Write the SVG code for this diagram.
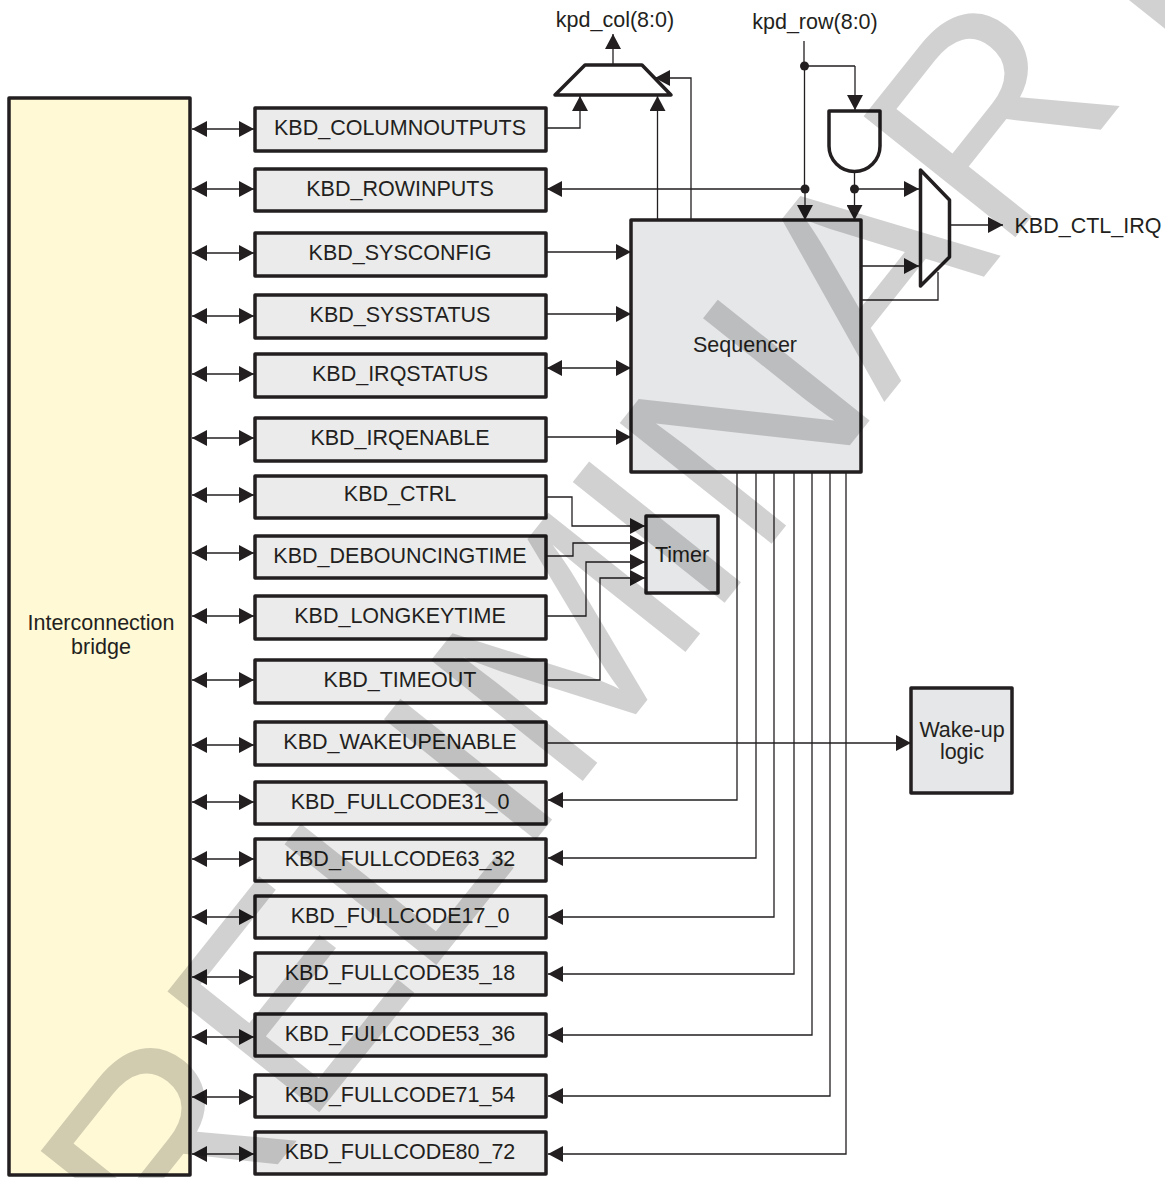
<svg xmlns="http://www.w3.org/2000/svg" width="1165" height="1178" viewBox="0 0 1165 1178">
<style>
text{font-family:"Liberation Sans",Arial,sans-serif;font-size:21.5px;fill:#231f20;text-anchor:middle}
.n{fill:#ebebeb;stroke:#231f20;stroke-width:3.5;stroke-linejoin:round}
.s{fill:#e6e7e8;stroke:#231f20;stroke-width:3.5;stroke-linejoin:round}
.g{fill:#fff;stroke:#231f20;stroke-width:3.5;stroke-linejoin:round}
.c path{fill:none;stroke:#231f20;stroke-width:1.3}
.a{marker-end:url(#ah)}
.d{marker-start:url(#ahs);marker-end:url(#ah)}
.c circle{fill:#231f20}
#watermark text{font-size:282px;fill:#000;fill-opacity:.18;text-anchor:start}
</style>
<defs>
<marker id="ah" markerUnits="userSpaceOnUse" markerWidth="15" markerHeight="16" refX="15" refY="8" orient="auto"><path d="M0 0L15 8L0 16Z" fill="#231f20"/></marker>
<marker id="ahs" markerUnits="userSpaceOnUse" markerWidth="15" markerHeight="16" refX="15" refY="8" orient="auto-start-reverse"><path d="M0 0L15 8L0 16Z" fill="#231f20"/></marker>
</defs>
<g id="bridge"><rect class="n" style="fill:#fff9d6" x="9" y="98" width="181" height="1077"/><text x="101" y="630">Interconnection</text><text x="101" y="654">bridge</text></g>
<g id="regs">
<g id="KBD_COLUMNOUTPUTS"><rect class="n" x="255" y="108" width="291" height="43"/><text x="400" y="135">KBD_COLUMNOUTPUTS</text></g>
<g id="KBD_ROWINPUTS"><rect class="n" x="255" y="169" width="291" height="42"/><text x="400" y="196">KBD_ROWINPUTS</text></g>
<g id="KBD_SYSCONFIG"><rect class="n" x="255" y="233" width="291" height="43"/><text x="400" y="260">KBD_SYSCONFIG</text></g>
<g id="KBD_SYSSTATUS"><rect class="n" x="255" y="295" width="291" height="43"/><text x="400" y="322">KBD_SYSSTATUS</text></g>
<g id="KBD_IRQSTATUS"><rect class="n" x="255" y="354" width="291" height="43"/><text x="400" y="381">KBD_IRQSTATUS</text></g>
<g id="KBD_IRQENABLE"><rect class="n" x="255" y="418" width="291" height="43"/><text x="400" y="445">KBD_IRQENABLE</text></g>
<g id="KBD_CTRL"><rect class="n" x="255" y="476" width="291" height="42"/><text x="400" y="501">KBD_CTRL</text></g>
<g id="KBD_DEBOUNCINGTIME"><rect class="n" x="255" y="536" width="291" height="42"/><text x="400" y="563">KBD_DEBOUNCINGTIME</text></g>
<g id="KBD_LONGKEYTIME"><rect class="n" x="255" y="596" width="291" height="43"/><text x="400" y="623">KBD_LONGKEYTIME</text></g>
<g id="KBD_TIMEOUT"><rect class="n" x="255" y="660" width="291" height="43"/><text x="400" y="687">KBD_TIMEOUT</text></g>
<g id="KBD_WAKEUPENABLE"><rect class="n" x="255" y="722" width="291" height="43"/><text x="400" y="749">KBD_WAKEUPENABLE</text></g>
<g id="KBD_FULLCODE31_0"><rect class="n" x="255" y="782" width="291" height="42"/><text x="400" y="809">KBD_FULLCODE31_0</text></g>
<g id="KBD_FULLCODE63_32"><rect class="n" x="255" y="839" width="291" height="42"/><text x="400" y="866">KBD_FULLCODE63_32</text></g>
<g id="KBD_FULLCODE17_0"><rect class="n" x="255" y="896" width="291" height="42"/><text x="400" y="923">KBD_FULLCODE17_0</text></g>
<g id="KBD_FULLCODE35_18"><rect class="n" x="255" y="953" width="291" height="42"/><text x="400" y="980">KBD_FULLCODE35_18</text></g>
<g id="KBD_FULLCODE53_36"><rect class="n" x="255" y="1014" width="291" height="42"/><text x="400" y="1041">KBD_FULLCODE53_36</text></g>
<g id="KBD_FULLCODE71_54"><rect class="n" x="255" y="1075" width="291" height="42"/><text x="400" y="1102">KBD_FULLCODE71_54</text></g>
<g id="KBD_FULLCODE80_72"><rect class="n" x="255" y="1132" width="291" height="42"/><text x="400" y="1159">KBD_FULLCODE80_72</text></g>
</g>
<g id="sequencer"><rect class="s" x="631" y="220" width="230" height="252"/><text x="745" y="352">Sequencer</text></g>
<g id="timer"><rect class="s" x="646" y="516" width="72" height="77"/><text x="682" y="562">Timer</text></g>
<g id="wakeup"><rect class="s" x="911" y="688" width="101" height="105"/><text x="962" y="737">Wake-up</text><text x="962" y="759">logic</text></g>
<g id="col-mux"><path class="g" d="M585 65H642L671 95H555Z"/></g>
<g id="and-gate"><path class="g" d="M829 111H880V146A25.500 25.500 0 0 1 829 146Z"/></g>
<g id="irq-mux"><path class="g" d="M920.500 170L949.500 200V257L920.500 286Z"/></g>
<g id="labels"><text x="615" y="27">kpd_col(8:0)</text><text x="815" y="29">kpd_row(8:0)</text><text x="1088" y="233">KBD_CTL_IRQ</text></g>
<g id="connectors" class="c">
<path class="d" d="M192 129H254"/><path class="d" d="M192 189H254"/><path class="d" d="M192 253H254"/><path class="d" d="M192 316H254"/><path class="d" d="M192 374H254"/><path class="d" d="M192 438H254"/><path class="d" d="M192 495H254"/><path class="d" d="M192 553H254"/><path class="d" d="M192 616H254"/><path class="d" d="M192 680H254"/><path class="d" d="M192 745H254"/><path class="d" d="M192 802H254"/><path class="d" d="M192 859H254"/><path class="d" d="M192 917H254"/><path class="d" d="M192 977H254"/><path class="d" d="M192 1037H254"/><path class="d" d="M192 1097H254"/><path class="d" d="M192 1154H254"/>
<path class="a" d="M613 65V34"/>
<path class="a" d="M547 128H580V96"/>
<path class="a" d="M657.500 220V96"/>
<path class="a" d="M691 220V78H655"/>
<path d="M804 41V66H855"/>
<path class="a" d="M855 66V110"/>
<path class="a" d="M804.500 66V189H547"/>
<path class="a" d="M805 189V220"/>
<path class="a" d="M854.500 172V220"/>
<path class="a" d="M854.500 189H919"/>
<path class="a" d="M950 225H1003"/>
<path class="a" d="M861 266H919"/>
<path d="M861 300H938V272"/>
<path class="a" d="M546 252H631"/>
<path class="a" d="M546 314H631"/>
<path class="d" d="M547 368H631"/>
<path class="a" d="M546 437H631"/>
<path class="a" d="M546 497H572V526H645"/>
<path class="a" d="M546 556H573V543H645"/>
<path class="a" d="M546 616H586V562H645"/>
<path class="a" d="M546 680H600V578H645"/>
<path class="a" d="M546 743H911"/>
<path class="a" d="M737 472V800H548"/>
<path class="a" d="M756 472V858H548"/>
<path class="a" d="M774 472V917H548"/>
<path class="a" d="M794 472V974H548"/>
<path class="a" d="M812 472V1035H548"/>
<path class="a" d="M830 472V1096H548"/>
<path class="a" d="M846 472V1154H548"/>
<circle cx="804.500" cy="66" r="4.500"/><circle cx="805" cy="189" r="4.500"/><circle cx="854.500" cy="189" r="4.500"/>
</g>
<g id="watermark"><text transform="translate(61 1437) rotate(-51.500)">PRELIM<tspan dx="-10">INARY</tspan></text></g>
</svg>
